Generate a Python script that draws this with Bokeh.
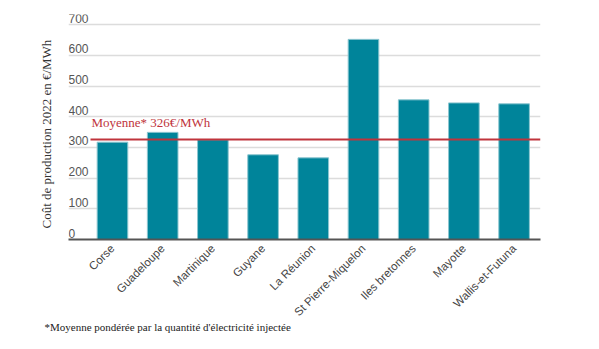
from math import pi
from bokeh.plotting import figure
from bokeh.models import Range1d, FixedTicker, Label, ColumnDataSource, Title
from bokeh.core.properties import value
from bokeh.embed import file_html
from bokeh.resources import INLINE

categories = ["Corse", "Guadeloupe", "Martinique", "Guyane", "La Réunion",
              "St Pierre-Miquelon", "Iles bretonnes", "Mayotte", "Wallis-et-Futuna"]
costs = [317, 349, 325, 276, 266, 652, 455, 445, 442]
moyenne = 326
y_ticks = [0, 100, 200, 300, 400, 500, 600, 700]
y_title = "Coût de production 2022 en €/MWh"
mean_label = "Moyenne* 326€/MWh"
footnote = "*Moyenne pondérée par la quantité d'électricité injectée"

W, H = 599, 349
FL, FR, FT, FB = 68, 540, 14, 239
X0, X1 = -0.876, 8.526
Y0, Y1 = 0, 733


def px_x(px):
    return X0 + (px - FL) * (X1 - X0) / (FR - FL)


def px_y(py):
    return Y0 + (FB - py) * (Y1 - Y0) / (FB - FT)


idx = list(range(len(categories)))
src = ColumnDataSource(dict(x=idx, top=costs, name=categories))

p = figure(width=W, height=H, output_backend="svg", toolbar_location=None,
           x_range=Range1d(X0, X1), y_range=Range1d(Y0, Y1),
           min_border_left=FL, min_border_right=W - FR,
           min_border_top=FT, min_border_bottom=H - FB)
p.outline_line_color = None
p.background_fill_color = "white"
p.border_fill_color = "white"

p.xgrid.visible = False
p.ygrid.ticker = FixedTicker(ticks=y_ticks)
p.ygrid.grid_line_color = "#dcdcdc"
p.ygrid.grid_line_width = 1.5
p.yaxis.visible = False

p.vbar(x="x", top="top", width=0.61, source=src, fill_color="#00849a",
       line_color="#8cc6d0", line_width=1)

p.segment(x0=[px_x(90)], x1=[X1], y0=[moyenne], y1=[moyenne],
          line_color="#c0343c", line_width=2)

p.text(x=[X0] * len(y_ticks), y=y_ticks, text=[str(t) for t in y_ticks],
       text_align="left", text_baseline="bottom", y_offset=-2,
       text_font=value("Liberation Sans"), text_font_size="12px",
       text_color="#555555")

xa = p.xaxis[0]
xa.ticker = FixedTicker(ticks=idx)
xa.major_label_overrides = {i: c for i, c in zip(idx, categories)}
xa.major_label_orientation = pi / 4
xa.major_tick_line_color = None
xa.minor_tick_line_color = None
xa.axis_line_color = "#555555"
xa.axis_line_width = 2
xa.major_label_text_font = "Liberation Sans"
xa.major_label_text_font_size = "11.5px"
xa.major_label_text_color = "#444444"
xa.major_label_standoff = 1

p.add_layout(Label(x=px_x(91), y=px_y(122), text=mean_label,
                   text_font="Liberation Serif", text_font_size="13px",
                   text_color="#c0343c", text_baseline="middle", text_align="left"))

p.add_layout(Title(text=y_title, align="left", offset=11,
                   text_font="Liberation Serif", text_font_size="13px",
                   text_font_style="normal", text_color="#333333",
                   standoff=30), "left")
p.add_layout(Title(text=footnote, align="left", offset=-24,
                   text_font="Liberation Serif", text_font_size="11px",
                   text_font_style="normal", text_color="#222222",
                   standoff=-14), "below")

open("out.html", "w").write(file_html(p, INLINE))
